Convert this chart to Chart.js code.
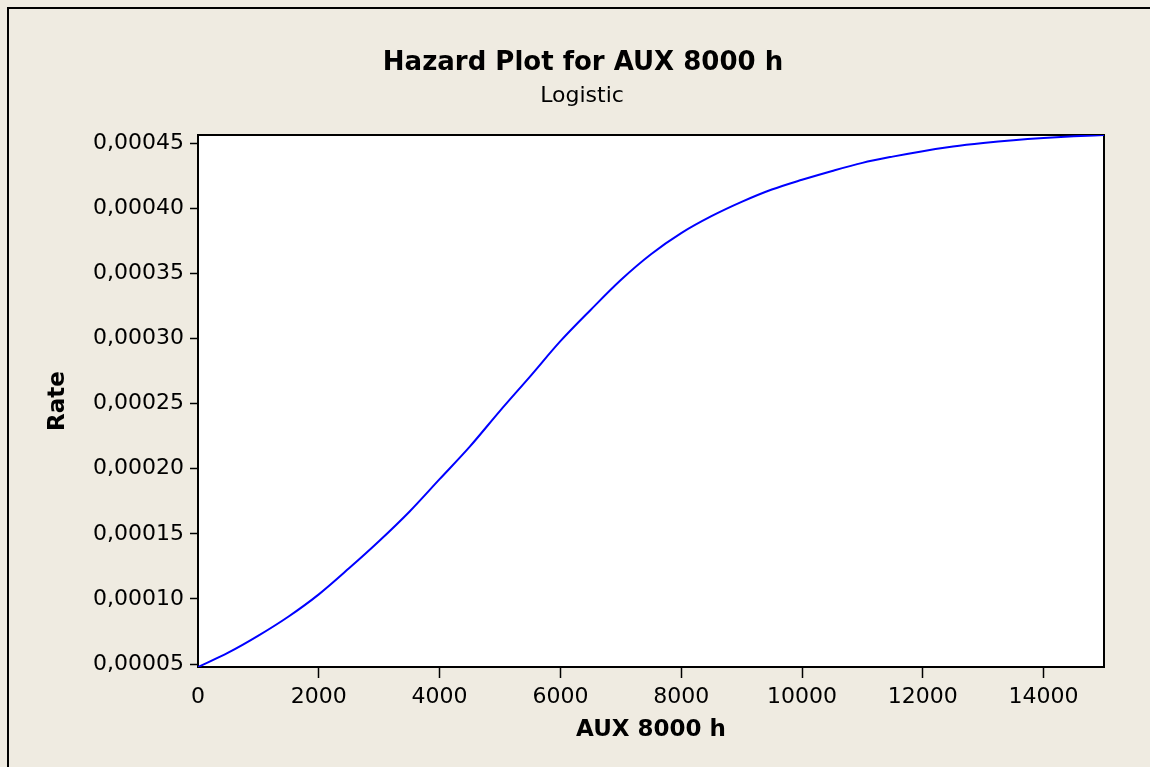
<!DOCTYPE html>
<html>
<head>
<meta charset="utf-8">
<script src="https://cdn.jsdelivr.net/npm/chart.js@4/dist/chart.umd.min.js"></script>
<style>
  html, body { margin: 0; padding: 0; background: #EFEBE1; }
  canvas { display: block; }
</style>
</head>
<body>
<canvas id="hazardChart" width="1150" height="767"></canvas>
<script>
// values
const hours = [0, 500, 1000, 1500, 2000, 2500, 3000, 3500, 4000, 4500, 5000, 5500, 6000, 6500, 7000, 7500,
  8000, 8500, 9000, 9500, 10000, 10500, 11000, 11500, 12000, 12500, 13000, 13500, 14000, 14500, 15000]
const rates = [0.0000477, 0.0000587, 0.0000718, 0.0000865, 0.0001035, 0.0001235, 0.0001445, 0.000167,
  0.000192, 0.000217, 0.0002445, 0.000271, 0.000298, 0.000322, 0.000345, 0.0003648,
  0.000381, 0.000394, 0.000405, 0.0004145, 0.000422, 0.0004288, 0.000435, 0.0004398,
  0.000444, 0.0004475, 0.0004502, 0.0004524, 0.0004541, 0.0004554, 0.0004564]
const xTicks = [0, 2000, 4000, 6000, 8000, 10000, 12000, 14000]
const yTicks = [0.00005, 0.0001, 0.00015, 0.0002, 0.00025, 0.0003, 0.00035, 0.0004, 0.00045]

const chartTitle = "Hazard Plot for AUX 8000 h"
const chartSubtitle = "Logistic"

const bgColor = "#EFEBE1"
const fontFamily = "'DejaVu Sans', Verdana, sans-serif"

const frame = {
  id: "frame",
  beforeDraw(chart) {
    const { ctx, chartArea } = chart
    ctx.save()
    ctx.fillStyle = bgColor
    ctx.fillRect(0, 0, chart.width, chart.height)
    ctx.strokeStyle = "#000"
    ctx.lineWidth = 2
    ctx.beginPath()
    ctx.moveTo(8, chart.height)
    ctx.lineTo(8, 8)
    ctx.lineTo(chart.width, 8)
    ctx.stroke()
    ctx.fillStyle = "#fff"
    ctx.fillRect(chartArea.left, chartArea.top, chartArea.width, chartArea.height)

    // heading, centred on the graph region like the original
    ctx.fillStyle = "#000"
    ctx.textAlign = "center"
    ctx.textBaseline = "middle"
    ctx.font = "bold 26px " + fontFamily
    ctx.fillText(chartTitle, 583, 63)
    ctx.font = "22px " + fontFamily
    ctx.fillText(chartSubtitle, 582, 96)
    ctx.restore()
  },
  beforeDatasetsDraw(chart) {
    const { ctx, chartArea } = chart
    ctx.save()
    ctx.strokeStyle = "#000"
    ctx.lineWidth = 2
    ctx.strokeRect(chartArea.left, chartArea.top, chartArea.width, chartArea.height)
    ctx.restore()
  },
}

new Chart(document.getElementById("hazardChart"), {
  type: "line",
  data: {
    datasets: [
      {
        label: "Rate",
        data: hours.map((h, i) => ({ x: h, y: rates[i] })),
        borderColor: "#0000FF",
        borderWidth: 2,
        pointRadius: 0,
        cubicInterpolationMode: "monotone",
        fill: false,
      },
    ],
  },
  options: {
    responsive: false,
    devicePixelRatio: 1,
    animation: false,
    layout: { padding: { top: 135, right: 46, bottom: 0, left: 0 } },
    plugins: {
      legend: { display: false },
      tooltip: { enabled: false },
      title: { display: false },
      subtitle: { display: false },
    },
    scales: {
      x: {
        type: "linear",
        min: 0,
        max: 15000,
        afterBuildTicks: (scale) => {
          scale.ticks = xTicks.map((v) => ({ value: v }))
        },
        afterFit: (scale) => {
          scale.height = 100
        },
        grid: {
          drawOnChartArea: false,
          drawTicks: true,
          tickLength: 11,
          tickWidth: 1.5,
          tickColor: (c) => (c.tick && c.tick.value === 0 ? "rgba(0,0,0,0)" : "#000"),
        },
        border: { display: false },
        ticks: {
          color: "#000",
          padding: 6,
          maxRotation: 0,
          font: { family: fontFamily, size: 22 },
          callback: (v) => String(v),
        },
        title: {
          display: true,
          text: "AUX 8000 h",
          color: "#000",
          font: { family: fontFamily, size: 23, weight: "bold", lineHeight: 1.2 },
          padding: { top: 0, bottom: 23 },
        },
      },
      y: {
        type: "linear",
        min: 0.0000477,
        max: 0.0004564,
        afterBuildTicks: (scale) => {
          scale.ticks = yTicks.map((v) => ({ value: v }))
        },
        afterFit: (scale) => {
          scale.width = 198
        },
        grid: {
          drawOnChartArea: false,
          drawTicks: true,
          tickLength: 8,
          tickWidth: 1.5,
          tickColor: "#000",
        },
        border: { display: false },
        ticks: {
          color: "#000",
          padding: 6,
          font: { family: fontFamily, size: 22 },
          callback: (v) => v.toFixed(5).replace(".", ","),
        },
        title: {
          display: true,
          text: "Rate",
          color: "#000",
          font: { family: fontFamily, size: 23, weight: "bold", lineHeight: 1.2 },
          padding: { top: 44, bottom: 0 },
        },
      },
    },
  },
  plugins: [frame],
})
</script>
</body>
</html>
